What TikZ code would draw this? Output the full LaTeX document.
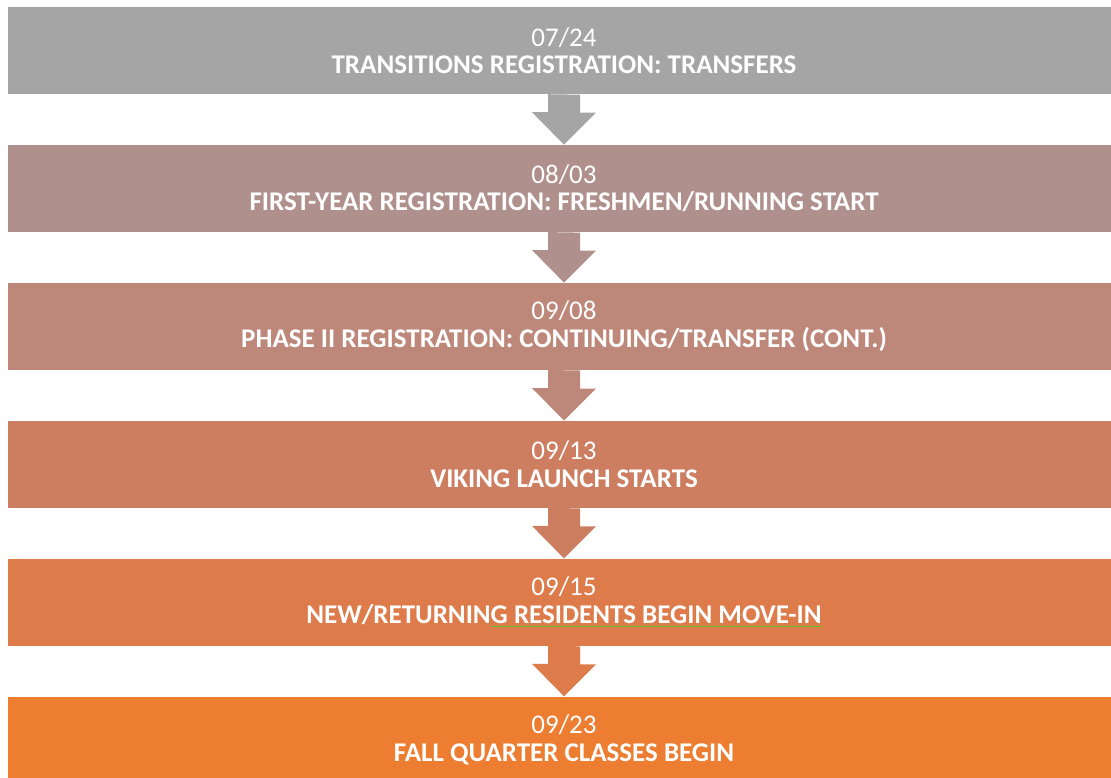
\documentclass[tikz,border=0pt]{standalone}
\usepackage{fontspec}
\setmainfont{Carlito}
\usetikzlibrary{positioning}
\definecolor{stageA}{HTML}{A5A5A5}
\definecolor{stageB}{HTML}{B0908C}
\definecolor{stageC}{HTML}{BD877A}
\definecolor{stageD}{HTML}{CD7E61}
\definecolor{stageE}{HTML}{DD7B4B}
\definecolor{stageF}{HTML}{ED7D31}
\definecolor{spellgreen}{HTML}{5EC72C}
\newcommand\spellmark[1]{\setbox0\hbox{#1}\rlap{\textcolor{spellgreen}{\rule[-3.5pt]{\wd0}{1.4pt}}}\box0}
\tikzset{
  stage/.style={minimum width=1112pt, minimum height=87pt, inner sep=0pt,
    text=white, align=center, font=\fontsize{27}{27.5}\selectfont},
}
\newcommand\stagearrow[3]{% from node, to node, colour
  \fill[#3] (#1.south) ++(-16,0) -- ++(0,18) -- ++(-16,0) -- (#2.north)
    -- ++(32,-32) -- ++(-16,0) -- ++(0,-18) -- cycle;}
\begin{document}
\begin{tikzpicture}[x=1pt,y=-1pt]
\useasboundingbox (0,0) rectangle (1111,777);
\clip (0,0) rectangle (1111,777);
\node[stage, fill=stageA] (reg1) at (564,50.5) {07/24\\\textbf{TRANSITIONS REGISTRATION: TRANSFERS}};
\node[stage, fill=stageB, below=50.5pt of reg1] (reg2) {08/03\\\textbf{FIRST-YEAR REGISTRATION: FRESHMEN/RUNNING START}};
\node[stage, fill=stageC, below=50.5pt of reg2] (reg3) {09/08\\\textbf{PHASE II REGISTRATION: CONTINUING/TRANSFER (CONT.)}};
\node[stage, fill=stageD, below=50.5pt of reg3] (launch) {09/13\\\textbf{VIKING LAUNCH STARTS}};
\node[stage, fill=stageE, below=50.5pt of launch] (movein) {09/15\\\textbf{NEW/RETURNIN\spellmark{G RESIDENTS BEGIN MOVE-IN}}};
\node[stage, fill=stageF, below=50.5pt of movein] (classes) {09/23\\\textbf{FALL QUARTER CLASSES BEGIN}};
\stagearrow{reg1}{reg2}{stageA}
\stagearrow{reg2}{reg3}{stageB}
\stagearrow{reg3}{launch}{stageC}
\stagearrow{launch}{movein}{stageD}
\stagearrow{movein}{classes}{stageE}
\end{tikzpicture}
\end{document}
